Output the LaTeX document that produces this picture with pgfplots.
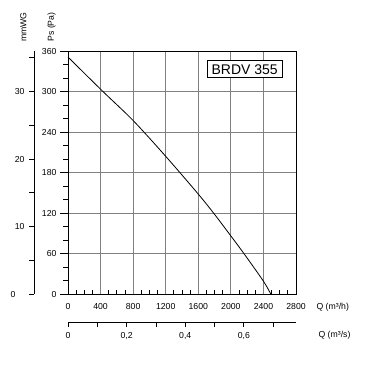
\documentclass[border=0pt]{standalone}
\usepackage{fontspec}
\setmainfont{Liberation Sans}
\usepackage{pgfplots}
\pgfplotsset{compat=1.18}
\definecolor{gridgray}{HTML}{808080}
\begin{document}
\begin{tikzpicture}[font=\fontsize{8.7}{10}\selectfont]
\useasboundingbox (-68pt,-71pt) rectangle (298pt,294pt);
% main axis
\begin{axis}[at={(0pt,0pt)}, anchor=south west, scale only axis,
  width=228pt, height=243pt,
  xmin=0, xmax=2800, ymin=0, ymax=360,
  xtick={0,400,...,2800}, ytick={0,60,...,360},
  minor xtick={100,200,300,500,600,700,900,1000,1100,1300,1400,1500,1700,1800,1900,2100,2200,2300,2500,2600,2700},
  tick align=inside, xtick pos=bottom, ytick pos=left,
  major tick length=0pt, minor tick length=4.5pt,
  tick style={black, line width=0.8pt},
  grid=major, major grid style={gridgray, line width=0.9pt},
  axis line style={line width=0.9pt},
  /pgf/number format/assume math mode=true,
  /pgf/number format/1000 sep={},
  yticklabel style={xshift=-8pt},
  xticklabel style={yshift=-6pt},
  clip=false]
\addplot[black, line width=0.8pt, smooth, tension=0.5] coordinates {
(0,351) (429,300) (800,257) (1200,204) (1600,148) (1800,118) (2000,86) (2160,60) (2400,19) (2490,0)};
\node[draw=black, fill=white, line width=0.8pt, minimum width=75pt, minimum height=17pt, inner sep=0pt, font=\fontsize{14}{16}\selectfont] at (axis cs:2170,333) {BRDV 355};
\end{axis}
% outward y ticks for Pa axis
\begin{axis}[at={(0pt,0pt)}, anchor=south west, scale only axis,
  width=228pt, height=243pt,
  xmin=0, xmax=2800, ymin=0, ymax=360,
  xtick=\empty, ytick={0,60,...,360}, minor ytick={20,40,...,340},
  yticklabels={}, tick align=outside, ytick pos=left,
  major tick length=8pt, minor tick length=5pt,
  tick style={black, line width=0.8pt},
  axis line style={draw=none}]
\end{axis}
% mmWG axis
\begin{axis}[at={(-34pt,0pt)}, anchor=south west, scale only axis,
  width=1pt, height=243pt,
  xmin=0, xmax=1, ymin=0, ymax=36,
  axis x line=none, axis y line=left, axis line style={-, line width=0.9pt},
  ytick={0,10,20,30}, minor ytick={5,15,25,35},
  yticklabels={0\hspace*{9pt},10,20,30},
  tick align=outside, major tick length=5pt, minor tick length=5pt,
  tick style={black, line width=0.8pt},
  yticklabel style={xshift=-1pt}]
\end{axis}
% m3/s axis
\begin{axis}[at={(0pt,-28pt)}, anchor=south west, scale only axis,
  width=228pt, height=10pt,
  xmin=0, xmax=0.77778, ymin=0, ymax=1,
  axis y line=none, axis x line=bottom, axis line style={-, line width=0.9pt},
  xtick={0,0.2,0.4,0.6}, minor xtick={0.1,0.3,0.5,0.7},
  xticklabels={0,{0,2},{0,4},{0,6}},
  tick align=outside, major tick length=4.5pt, minor tick length=4.5pt,
  tick style={black, line width=0.8pt},
  xticklabel style={yshift=-2.5pt}]
\end{axis}
\node[anchor=west] at (245pt,-13pt) {Q (m³/h)};
\node[anchor=west] at (247pt,-41pt) {Q (m³/s)};
\node[rotate=90] at (-44.5pt,267pt) {mmWG};
\node[rotate=90] at (-16.5pt,267pt) {Ps (Pa)};
\end{tikzpicture}
\end{document}
